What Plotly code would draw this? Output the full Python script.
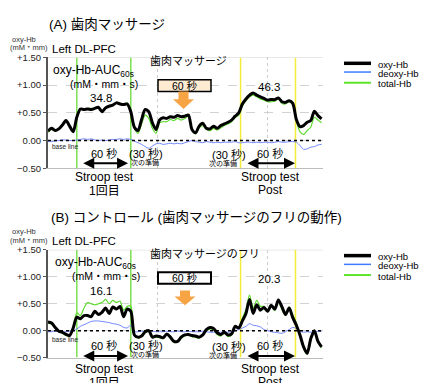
import plotly.graph_objects as go

FONT = "Liberation Sans, Arial, Noto Sans CJK JP, sans-serif"
W, H = 421, 383

# ---- data -------------------------------------------------------------
# time in seconds, 0 = start of the first Stroop test
time_s = list(range(-32, 273, 4))

# (A) gum massage
oxy_a = [0.17, 0.22, 0.18, 0.21, 0.28, 0.36, 0.26, 0.16,
         0.42, 0.57, 0.56, 0.57, 0.56, 0.58, 0.60, 0.52,
         0.59, 0.62, 0.64, 0.68, 0.66, 0.65, 0.66, 0.52,
         0.24, 0.18, 0.38, 0.56, 0.52, 0.32, 0.20, 0.37,
         0.41, 0.40, 0.43, 0.42, 0.45, 0.43, 0.44, 0.46,
         0.20, 0.14, 0.26, 0.31, 0.22, 0.21, 0.26, 0.22,
         0.27, 0.30, 0.33, 0.37, 0.44, 0.50, 0.66, 0.75,
         0.82, 0.86, 0.82, 0.79, 0.76, 0.73, 0.74, 0.74,
         0.77, 0.70, 0.69, 0.72, 0.67, 0.38, 0.25, 0.27,
         0.33, 0.36, 0.53, 0.45, 0.39]
deoxy_a = [-0.02, -0.02, -0.01, 0.00, 0.01, 0.01, 0.00, 0.00,
           0.01, 0.02, 0.03, 0.02, 0.03, 0.01, 0.00, 0.01,
           0.00, 0.01, 0.02, 0.02, 0.03, 0.02, 0.03, 0.02,
           -0.01, -0.04, -0.07, -0.11, -0.14, -0.10, -0.06, -0.05,
           -0.07, -0.06, -0.05, -0.06, -0.05, -0.06, -0.04, -0.02,
           0.00, -0.02, -0.03, -0.04, -0.02, -0.03, -0.04, -0.03,
           -0.04, -0.03, -0.03, -0.03, -0.02, -0.04, -0.04, -0.03,
           -0.03, -0.04, -0.03, -0.04, -0.03, -0.03, -0.04, -0.03,
           -0.02, -0.03, -0.03, -0.02, -0.02, -0.03, -0.09, -0.16,
           -0.15, -0.12, -0.11, -0.08, -0.07]
total_a = [0.15, 0.20, 0.17, 0.21, 0.29, 0.37, 0.26, 0.16,
           0.43, 0.57, 0.57, 0.58, 0.58, 0.58, 0.59, 0.52,
           0.58, 0.62, 0.65, 0.68, 0.67, 0.66, 0.68, 0.53,
           0.22, 0.13, 0.30, 0.46, 0.40, 0.22, 0.13, 0.32,
           0.34, 0.34, 0.38, 0.36, 0.40, 0.37, 0.40, 0.44,
           0.20, 0.12, 0.23, 0.27, 0.20, 0.18, 0.22, 0.19,
           0.23, 0.27, 0.30, 0.34, 0.42, 0.46, 0.62, 0.72,
           0.79, 0.82, 0.79, 0.75, 0.73, 0.70, 0.70, 0.71,
           0.75, 0.67, 0.66, 0.70, 0.65, 0.35, 0.16, 0.11,
           0.18, 0.24, 0.42, 0.37, 0.32]

# (B) control (pretend massage)
oxy_b = [0.16, 0.14, 0.06, -0.01, -0.03, -0.07, -0.09, 0.05,
         0.25, 0.22, 0.28, 0.28, 0.26, 0.36, 0.30, 0.34,
         0.42, 0.32, 0.44, 0.40, 0.45, 0.26, 0.40, 0.36,
         -0.08, -0.12, -0.10, -0.02, 0.00, -0.12, -0.10, -0.11,
         -0.13, -0.06, -0.12, -0.20, -0.20, -0.12, -0.08, -0.07,
         -0.09, -0.10, -0.12, -0.08, 0.02, 0.06, 0.04, -0.04,
         -0.07, -0.03, -0.08, -0.06, 0.08, 0.05, 0.18, 0.32,
         0.58, 0.32, 0.48, 0.38, 0.43, 0.36, 0.47, 0.40,
         0.57, 0.44, 0.30, 0.42, 0.24, 0.10, -0.08, -0.30,
         -0.42, -0.15, 0.00, -0.20, -0.30]
deoxy_b = [-0.02, -0.02, -0.01, -0.01, -0.02, -0.02, -0.01, 0.00,
           0.03, 0.08, 0.11, 0.14, 0.17, 0.18, 0.18, 0.17,
           0.16, 0.15, 0.13, 0.12, 0.10, 0.06, 0.05, 0.10,
           -0.02, -0.02, -0.01, -0.02, -0.02, -0.01, -0.02, -0.02,
           -0.02, -0.01, -0.02, -0.02, -0.01, -0.02, -0.02, -0.01,
           -0.02, -0.02, -0.02, -0.01, -0.02, -0.03, -0.03, -0.03,
           -0.03, -0.02, -0.03, -0.02, 0.00, 0.02, 0.05, 0.08,
           0.13, 0.10, 0.09, 0.07, 0.02, 0.00, -0.02, -0.03,
           -0.04, -0.05, -0.02, 0.02, 0.06, 0.04, -0.01, -0.03,
           -0.02, -0.03, -0.02, -0.01, -0.02]
total_b = [0.14, 0.12, 0.05, -0.02, -0.05, -0.09, -0.10, 0.05,
           0.33, 0.28, 0.42, 0.52, 0.50, 0.48, 0.50, 0.52,
           0.58, 0.50, 0.56, 0.52, 0.55, 0.38, 0.45, 0.46,
           -0.10, -0.14, -0.11, -0.04, -0.02, -0.13, -0.12, -0.13,
           -0.15, -0.07, -0.14, -0.22, -0.21, -0.14, -0.10, -0.08,
           -0.11, -0.12, -0.14, -0.09, 0.00, 0.03, 0.01, -0.07,
           -0.10, -0.05, -0.11, -0.08, 0.08, 0.07, 0.23, 0.40,
           0.66, 0.42, 0.56, 0.45, 0.45, 0.36, 0.45, 0.37,
           0.53, 0.39, 0.28, 0.44, 0.30, 0.14, -0.09, -0.33,
           -0.44, -0.18, -0.02, -0.21, -0.32]

y_ticks = [-0.5, 0.0, 0.5, 1.0, 1.5]
y_tick_text = ["−0.50", "0.00", "+0.50", "+1.00", "+1.50"]
x_grid = [90, 212]
stroop_first = (0, 60)
stroop_post = (182, 243)
auc_a = ("34.8", "46.3")
auc_b = ("16.1", "20.3")
series_names = ["oxy-Hb", "deoxy-Hb", "total-Hb"]
series_colors = ["#000000", "#6f86ff", "#5ddc2e"]
legend_colors = ["#000000", "#3f7bff", "#5ee52a"]

X_RANGE = [-32, 273.6]


def px(x):
    return x / W


def py(y):
    return 1 - y / H


fig = go.Figure()

panels = [
    dict(oxy=oxy_a, deoxy=deoxy_a, total=total_a, xa="x", ya="y"),
    dict(oxy=oxy_b, deoxy=deoxy_b, total=total_b, xa="x2", ya="y2"),
]
for p in panels:
    for name, ys, color, width in [
        ("total-Hb", p["total"], series_colors[2], 1.2),
        ("deoxy-Hb", p["deoxy"], series_colors[1], 1.0),
        ("oxy-Hb", p["oxy"], series_colors[0], 3.0),
    ]:
        fig.add_trace(go.Scatter(
            x=time_s, y=ys, mode="lines", name=name, showlegend=False,
            line=dict(color=color, width=width, shape="spline", smoothing=0.8),
            xaxis=p["xa"], yaxis=p["ya"], hoverinfo="skip"))

shapes = []
annotations = []


def text(t, x, y, size, anchor="center", color="#111"):
    annotations.append(dict(
        text=t, x=px(x), y=py(y), xref="paper", yref="paper",
        xanchor=anchor, yanchor="middle", showarrow=False,
        font=dict(size=size, color=color, family=FONT)))


def panel_decor(xa, ya, top, title, title_x, title_y, massage_label,
                auc, box_fill, box_line, arrow_y, arrow_x, dbl_y, dy):
    xd = f"{xa} domain"
    # frame top, zero line
    shapes.append(dict(type="line", xref=xd, yref=ya, x0=0, x1=1, y0=1.5, y1=1.5,
                       line=dict(color="#cfcfcf", width=1), layer="below"))
    # event markers
    for t in stroop_first:
        shapes.append(dict(type="line", xref=xa, yref=ya, x0=t, x1=t, y0=-0.5, y1=1.5,
                           line=dict(color="#7be052", width=1.5), layer="below"))
    for t in stroop_post:
        shapes.append(dict(type="line", xref=xa, yref=ya, x0=t, x1=t, y0=-0.5, y1=1.5,
                           line=dict(color="#f3ec3a", width=1.5), layer="below"))
    shapes.append(dict(type="line", xref=xd, yref=ya, x0=0, x1=1, y0=0, y1=0,
                       line=dict(color="#000", width=1.5, dash="dot"), layer="above"))

    # titles
    text(title, title_x, title_y, 13.5, "left", "#000")
    text("oxy-Hb", 10, top - 19, 7.5, "left", "#333")
    text("(mM・mm)", 8, top - 10, 7.5, "left", "#333")
    text("Left DL-PFC", 50, top - 9, 11.5, "left", "#000")

    # AUC labels
    text("oxy-Hb-AUC<sub>60s</sub>", 93 + dy, top + 14, 12, "center", "#000")
    text("(mM・mm・s)", 104 + dy, top + 27, 10.5, "center", "#000")
    text(auc[0], 101, top + 42, 11.5, "center", "#000")
    text(auc[1], 269, top + 30, 11.5, "center", "#000")

    # massage box + arrow
    text(massage_label, 148, top + 4, 11, "left", "#000")
    bx0, bx1, by0, by1 = 158, 211, top + 23, top + 35
    shapes.append(dict(type="rect", xref="paper", yref="paper",
                       x0=px(bx0), x1=px(bx1), y0=py(by1), y1=py(by0),
                       fillcolor=box_fill, line=dict(color="#000", width=box_line)))
    text("60 秒", (bx0 + bx1) / 2, (by0 + by1) / 2 + 0.5, 10.5, "center", "#000")
    ax, (a0, a1, a2) = arrow_x, arrow_y
    path = (f"M {px(ax - 5)} {py(a0)} L {px(ax + 5)} {py(a0)} L {px(ax + 5)} {py(a1)} "
            f"L {px(ax + 10.5)} {py(a1)} L {px(ax)} {py(a2)} L {px(ax - 10.5)} {py(a1)} "
            f"L {px(ax - 5)} {py(a1)} Z")
    shapes.append(dict(type="path", xref="paper", yref="paper", path=path,
                       fillcolor="#f7a445", line=dict(width=0)))

    # baseline and interval notes
    bottom = top + 114
    text("base line", 50, bottom - 22, 6.5, "left", "#222")
    text("60 秒", 104, bottom - 15, 11, "center", "#000")
    text("(30 秒)", 146, bottom - 15, 11, "center", "#000")
    text("次の準備", 145, bottom - 6, 7, "center", "#000")
    text("(30 秒)", 229, bottom - 14, 11, "center", "#000")
    text("次の準備", 223, bottom - 5, 7, "center", "#000")
    text("60 秒", 270, bottom - 15, 11, "center", "#000")
    for (s0, s1) in [(5.5, 57), (188, 242.5)]:
        annotations.append(dict(
            x=s1, y=dbl_y, ax=s0, ay=dbl_y, xref=xa, yref=ya, axref=xa, ayref=ya,
            text="", showarrow=True, arrowhead=2, arrowside="end+start",
            arrowsize=1.1, arrowwidth=2, arrowcolor="#000"))

    text("Stroop test", 104, bottom + 9, 12, "center", "#000")
    text("1回目", 104, bottom + 23, 12, "center", "#000")
    text("Stroop test", 270, bottom + 9, 12, "center", "#000")
    text("Post", 270, bottom + 22, 12, "center", "#000")

    # legend
    ly = [top + 6, top + 15, top + 26]
    for name, color, lw, yy in zip(series_names, legend_colors, [3.5, 1.5, 2], ly):
        shapes.append(dict(type="line", xref="paper", yref="paper",
                           x0=px(344), x1=px(371), y0=py(yy), y1=py(yy),
                           line=dict(color=color, width=lw)))
        text(name, 376, yy + 1, 9.5, "left", "#000")


panel_decor("x", "y", 53, "(A) 歯肉マッサージ", 47, 19, "歯肉マッサージ",
            auc_a, "#fdebd2", 1.5, (88, 96, 106), 183.5, -0.41, 0)
panel_decor("x2", "y2", 251, "(B) コントロール (歯肉マッサージのフリの動作)", 49, 218,
            "歯肉マッサージのフリ", auc_b, "#ffffff", 2, (293, 299, 308), 185, -0.47, 2)

common_x = dict(range=X_RANGE, domain=[px(48), px(323)], tickmode="array", tickvals=x_grid,
                showticklabels=False, ticks="", showgrid=True, gridcolor="#cdcdcd",
                griddash="dot", gridwidth=1, showline=True, linecolor="#bdbdbd",
                linewidth=1, zeroline=False, fixedrange=True)
common_y = dict(range=[-0.5, 1.5], tickmode="array", tickvals=y_ticks, ticktext=y_tick_text,
                tickfont=dict(size=9.5, color="#222", family=FONT), ticks="outside",
                ticklen=3, tickcolor="#555", showline=True, linecolor="#555", linewidth=2,
                showgrid=True, gridcolor="#d2d2d2", griddash="dash", zeroline=False,
                fixedrange=True)

fig.update_layout(
    width=W, height=H, margin=dict(l=0, r=0, t=0, b=0),
    paper_bgcolor="white", plot_bgcolor="white", showlegend=False,
    font=dict(family=FONT),
    xaxis=dict(common_x, anchor="y"),
    xaxis2=dict(common_x, anchor="y2"),
    yaxis=dict(common_y, anchor="x", domain=[py(167), py(53)]),
    yaxis2=dict(common_y, anchor="x2", domain=[py(362), py(251)]),
    shapes=shapes, annotations=annotations,
)

fig.write_html("out.html")
